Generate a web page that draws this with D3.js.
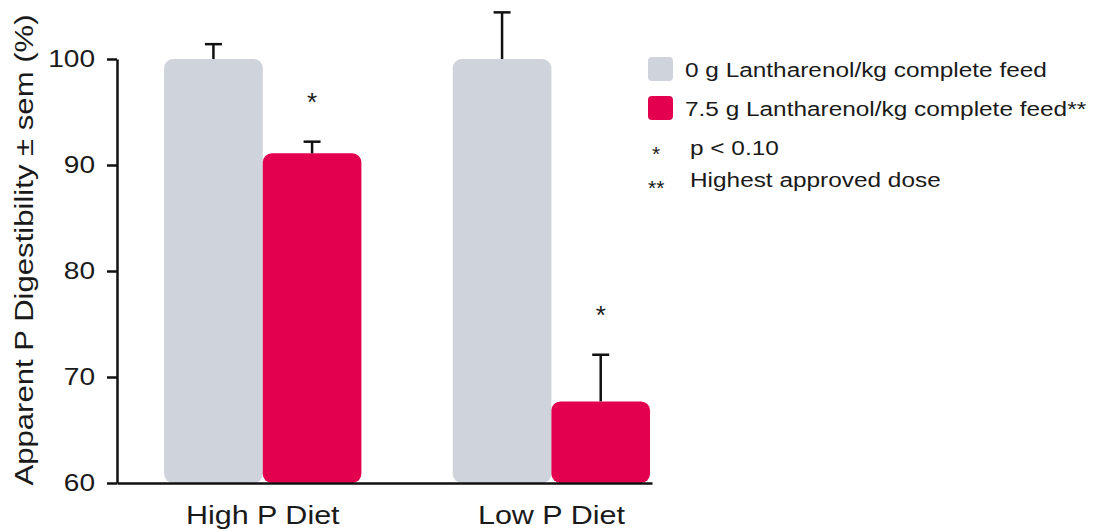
<!DOCTYPE html>
<html>
<head>
<meta charset="utf-8">
<script src="https://cdn.jsdelivr.net/npm/d3@7"></script>
<style>
  body { margin: 0; background: #fff; }
  svg text { font-family: "Liberation Sans", Arial, sans-serif; fill: #1a1a1a; }
</style>
</head>
<body>
<svg width="1096" height="532"></svg>
<script>
// data
var diets = ["High P Diet", "Low P Diet"];
var doses = ["0 g Lantharenol/kg complete feed", "7.5 g Lantharenol/kg complete feed**"];
var controlMean = [100, 100];
var controlSem = [1.4, 4.4];
var treatedMean = [91.1, 67.7];
var treatedSem = [1.1, 4.4];
var treatedStar = ["*", "*"];
var yTicks = [60, 70, 80, 90, 100];
var notes = ["*", "**"];
var noteTexts = ["p < 0.10", "Highest approved dose"];

var colors = d3.scaleOrdinal().domain(doses).range(["#cfd3dc", "#e3004f"]);

// rows for drawing
var rows = [];
diets.forEach(function(d, i) {
  rows.push({diet: d, dose: doses[0], mean: controlMean[i], sem: controlSem[i], star: ""});
  rows.push({diet: d, dose: doses[1], mean: treatedMean[i], sem: treatedSem[i], star: treatedStar[i]});
});

var svg = d3.select("svg");
var WIDE = 1.22; // the original font is wider than Arial

function wide(sel, f) {
  sel.each(function() {
    var w = this.getComputedTextLength();
    d3.select(this).attr("textLength", w * (f || WIDE)).attr("lengthAdjust", "spacingAndGlyphs");
  });
}

var x = d3.scaleBand().domain(diets).range([117, 652])
  .paddingInner(0.3165).paddingOuter(0.085).align(0.96);
var xs = d3.scaleBand().domain(doses).range([0, x.bandwidth()]).padding(0);
var y = d3.scaleLinear().domain([60, 100]).range([483, 59]);

// bars
svg.append("g").selectAll("rect")
  .data(rows)
  .enter().append("rect")
  .attr("x", function(d) { return x(d.diet) + xs(d.dose); })
  .attr("y", function(d) { return y(d.mean); })
  .attr("width", xs.bandwidth())
  .attr("height", function(d) { return y(60) - y(d.mean); })
  .attr("rx", 9)
  .attr("fill", function(d) { return colors(d.dose); });

// error bars (upper only)
var err = svg.append("g").attr("stroke", "#111").attr("stroke-width", 2.5);
rows.forEach(function(d) {
  var cx = x(d.diet) + xs(d.dose) + xs.bandwidth() / 2;
  err.append("line").attr("x1", cx).attr("x2", cx)
    .attr("y1", y(d.mean)).attr("y2", y(d.mean + d.sem));
  err.append("line").attr("x1", cx - 8.5).attr("x2", cx + 8.5)
    .attr("y1", y(d.mean + d.sem)).attr("y2", y(d.mean + d.sem));
});

// significance stars
svg.append("g").selectAll("text")
  .data(rows.filter(function(d) { return d.star; }))
  .enter().append("text")
  .attr("x", function(d) { return x(d.diet) + xs(d.dose) + xs.bandwidth() / 2; })
  .attr("y", function(d) { return y(d.mean + d.sem) - 31; })
  .attr("text-anchor", "middle")
  .style("font-size", "26px")
  .text(function(d) { return d.star; });

// y axis
var yAxis = svg.append("g")
  .attr("transform", "translate(117,0)")
  .call(d3.axisLeft(y).tickValues(yTicks).tickSize(10).tickSizeOuter(0).tickPadding(12));
yAxis.selectAll("path, line").attr("stroke", "#111").attr("stroke-width", 2.5);
yAxis.selectAll("text").style("font-size", "23px").attr("fill", "#1a1a1a").call(wide);

// x axis
var xAxis = svg.append("g")
  .attr("transform", "translate(0,483)")
  .call(d3.axisBottom(x).tickSize(0).tickSizeOuter(0).tickPadding(23));
xAxis.select(".domain").attr("stroke", "#111").attr("stroke-width", 2.5);
xAxis.selectAll("text").style("font-size", "25px").attr("fill", "#1a1a1a").call(wide);

// y title
svg.append("text")
  .attr("transform", "translate(33,250) rotate(-90)")
  .attr("text-anchor", "middle")
  .style("font-size", "25.5px")
  .text("Apparent P Digestibility \u00b1 sem (%)")
  .call(wide);

// legend
var legend = svg.append("g").attr("transform", "translate(648,57)");
doses.forEach(function(d, i) {
  legend.append("rect")
    .attr("x", 0).attr("y", i * 39)
    .attr("width", 25).attr("height", 24).attr("rx", 4)
    .attr("fill", colors(d));
  legend.append("text")
    .attr("x", 37).attr("y", i * 39 + 19.5)
    .style("font-size", "19.5px")
    .text(d)
    .call(wide, 1.25);
});
notes.forEach(function(n, i) {
  legend.append("text")
    .attr("x", n.length > 1 ? 0 : 4).attr("y", 104 + i * 34)
    .style("font-size", "21px")
    .text(n);
  legend.append("text")
    .attr("x", 42).attr("y", 98 + i * 32)
    .style("font-size", "19.5px")
    .text(noteTexts[i])
    .call(wide, 1.25);
});
</script>
</body>
</html>
